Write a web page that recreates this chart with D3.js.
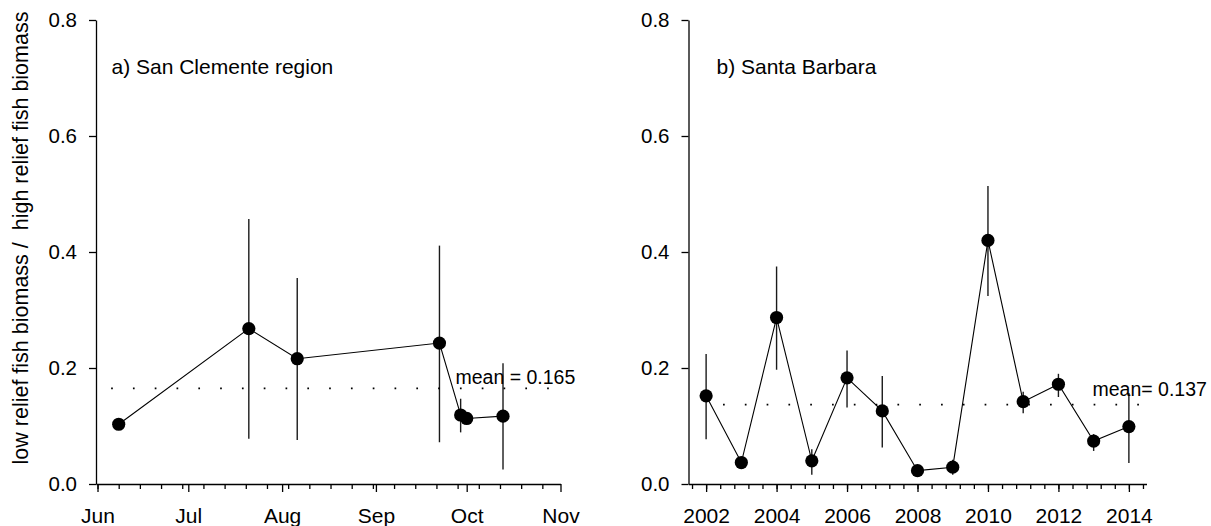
<!DOCTYPE html>
<html>
<head>
<meta charset="utf-8">
<script src="https://cdn.jsdelivr.net/npm/d3@7"></script>
<style>
  body { margin: 0; background: #fff; }
  svg { display: block; font-family: 'Liberation Sans', Arial, sans-serif; }
  .axis path, .axis line { stroke: #000; stroke-width: 1.3; }
  .axis text { fill: #000; }
</style>
</head>
<body>
<div class="canvas"></div>
<script>
// San Clemente region, sampling dates in one season
const sanClementeDates = ['2016-06-08', '2016-07-21', '2016-08-06', '2016-09-22', '2016-09-29', '2016-10-01', '2016-10-13']
const sanClementeRatio = [0.103, 0.268, 0.216, 0.243, 0.119, 0.113, 0.117]
const sanClementeLow   = [0.103, 0.078, 0.076, 0.072, 0.089, 0.108, 0.025]
const sanClementeHigh  = [0.103, 0.457, 0.355, 0.411, 0.147, 0.118, 0.208]

// Santa Barbara, yearly
const santaBarbaraYears = [2002, 2003, 2004, 2005, 2006, 2007, 2008, 2009, 2010, 2011, 2012, 2013, 2014]
const santaBarbaraRatio = [0.152, 0.037, 0.287, 0.040, 0.183, 0.126, 0.023, 0.029, 0.420, 0.142, 0.172, 0.074, 0.099]
const santaBarbaraLow   = [0.077, 0.030, 0.197, 0.016, 0.132, 0.063, 0.018, 0.016, 0.324, 0.122, 0.150, 0.057, 0.036]
const santaBarbaraHigh  = [0.224, 0.045, 0.375, 0.060, 0.230, 0.186, 0.028, 0.042, 0.514, 0.159, 0.190, 0.086, 0.157]

const means = [0.165, 0.137]
const titles = ['a) San Clemente region', 'b) Santa Barbara']
const meanLabels = ['mean = 0.165', 'mean= 0.137']
const monthLabels = ['Jun', 'Jul', 'Aug', 'Sep', 'Oct', 'Nov']
const yearLabels = [2002, 2004, 2006, 2008, 2010, 2012, 2014]
const yTicks = [0, 0.2, 0.4, 0.6, 0.8]
const yLabel = 'low relief fish biomass /  high relief fish biomass'

const parseDate = d3.timeParse('%Y-%m-%d')

const svg = d3.select('.canvas').append('svg')
  .attr('width', 1211)
  .attr('height', 526)

const y = d3.scaleLinear().domain([0, 0.8]).range([484, 20])

const xA = d3.scaleTime()
  .domain([new Date(2016, 4, 31, 12), new Date(2016, 10, 1)])
  .range([96, 560.5])

const xB = d3.scaleLinear()
  .domain([2001.5, 2014.5])
  .range([688.5, 1146.5])

function drawYAxis(x0) {
  svg.append('g')
    .attr('class', 'axis')
    .attr('transform', `translate(${x0},0)`)
    .call(d3.axisLeft(y).tickValues(yTicks).tickSize(7).tickPadding(12)
      .tickFormat(d3.format('.1f')).tickSizeOuter(0))
    .call(g => g.selectAll('text').style('font-size', '20.5px'))
}

function drawXAxis(scale, majors, format, minors) {
  svg.append('g')
    .attr('class', 'axis')
    .attr('transform', 'translate(0,484)')
    .call(d3.axisBottom(scale).tickValues(minors).tickSize(5)
      .tickFormat('').tickSizeOuter(0))
  svg.append('g')
    .attr('class', 'axis')
    .attr('transform', 'translate(0,484)')
    .call(d3.axisBottom(scale).tickValues(majors).tickSize(8).tickPadding(16)
      .tickFormat(format).tickSizeOuter(0))
    .call(g => g.select('.domain').remove())
    .call(g => g.selectAll('text').style('font-size', '21px'))
}

function drawSeries(xs, xScale, ratio, low, high) {
  const pts = xs.map((d, i) => ({x: xScale(d), v: ratio[i], lo: low[i], hi: high[i]}))

  svg.append('g').selectAll('line')
    .data(pts)
    .join('line')
    .attr('x1', d => d.x).attr('x2', d => d.x)
    .attr('y1', d => y(d.lo)).attr('y2', d => y(d.hi))
    .attr('stroke', '#1a1a1a')
    .attr('stroke-width', 1.4)

  svg.append('path')
    .datum(pts)
    .attr('d', d3.line().x(d => d.x).y(d => y(d.v)))
    .attr('fill', 'none')
    .attr('stroke', '#000')
    .attr('stroke-width', 1.1)

  svg.append('g').selectAll('circle')
    .data(pts)
    .join('circle')
    .attr('cx', d => d.x)
    .attr('cy', d => y(d.v))
    .attr('r', 6.6)
    .attr('fill', '#000')
}

function drawMean(x1, x2, value, label, lx, ly) {
  svg.append('line')
    .attr('x1', x1).attr('x2', x2)
    .attr('y1', y(value)).attr('y2', y(value))
    .attr('stroke', '#000')
    .attr('stroke-width', 1.7)
    .attr('stroke-dasharray', '1.7 20.1')
  svg.append('text')
    .attr('x', lx).attr('y', ly)
    .attr('font-size', '19.5px')
    .attr('xml:space', 'preserve')
    .text(label)
}

// panel a
const jun1 = new Date(2016, 5, 1)
const weekTicks = d3.range(0, 22).map(k => d3.timeDay.offset(jun1, 7 * k))
const monthTicks = monthLabels.map((m, i) => new Date(2016, 5 + i, 1))
drawXAxis(xA, monthTicks, (d, i) => monthLabels[i], weekTicks)
drawYAxis(96)
drawSeries(sanClementeDates.map(parseDate), xA, sanClementeRatio, sanClementeLow, sanClementeHigh)
drawMean(xA(new Date(2016, 5, 5, 12)), 561, means[0], meanLabels[0], 455.5, 384)

// panel b
const yearTicks = d3.range(2001.6, 2014.45, 0.4)
drawXAxis(xB, yearLabels, d3.format('d'), yearTicks)
drawYAxis(688.5)
drawSeries(santaBarbaraYears, xB, santaBarbaraRatio, santaBarbaraLow, santaBarbaraHigh)
drawMean(xB(2002.48), 1154, means[1], meanLabels[1], 1092.5, 396)

// titles
svg.selectAll('.title')
  .data(titles)
  .join('text')
  .attr('class', 'title')
  .attr('x', (d, i) => i ? 716.5 : 111.5)
  .attr('y', 74)
  .attr('font-size', '21px')
  .text(d => d)

svg.append('text')
  .attr('transform', 'translate(28,238) rotate(-90)')
  .attr('text-anchor', 'middle')
  .attr('font-size', '21.5px')
  .attr('xml:space', 'preserve')
  .style('white-space', 'pre')
  .text(yLabel)
</script>
</body>
</html>
